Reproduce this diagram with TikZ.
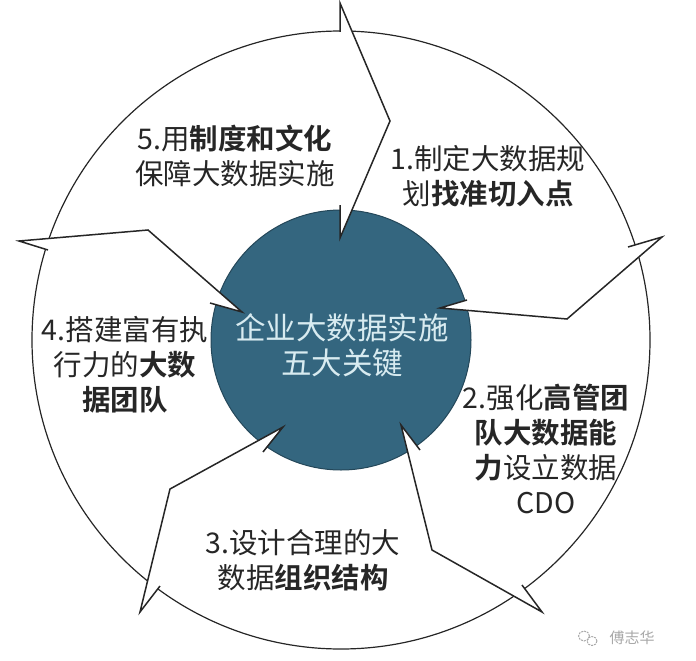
\documentclass[tikz,border=0pt]{standalone}
\usepackage{fontspec}
\setmainfont{Noto Sans CJK SC}[BoldFont={Noto Sans CJK SC Bold}]
\definecolor{discblue}{HTML}{34667F}
\definecolor{disctext}{HTML}{D8EBF0}
\definecolor{ink}{HTML}{262626}
\definecolor{mark}{HTML}{A8A8A8}
\tikzset{
  px/.style={x=1pt,y=-1pt},
  ringline/.style={draw=ink,line width=1.2pt},
  arrowfill/.style={fill=white,draw=none},
  arrowline/.style={draw=ink,line width=1.5pt,line join=miter,miter limit=8},
  keytext/.style={align=center,text=ink,font=\fontsize{28.5}{35}\selectfont,inner sep=0pt},
  disclabel/.style={align=center,text=disctext,font=\fontsize{30.5}{35}\selectfont,inner sep=0pt},
  wmtext/.style={text=mark,font=\fontsize{15}{15}\selectfont,inner sep=0pt},
  wmicon/.style={draw=mark,line width=1pt,dash pattern=on 2pt off 1pt},
}
\newcommand{\keyarrow}[5]{%
  \fill[arrowfill] #1 -- #2 -- #3 -- #4 -- #5 -- cycle;
  \draw[arrowline] #1 -- #2 -- #3 -- #4 -- #5;
}
\begin{document}
\begin{tikzpicture}[px]
  \useasboundingbox (0,0) rectangle (696,661);
  \coordinate (c) at (341,340);
  \draw[ringline] (c) circle[radius=309pt];
  \fill[discblue] (c) circle[radius=130pt];
  \draw[discblue!70!black,line width=1pt] (c) circle[radius=130pt];
  \keyarrow{(340,32)}{(340,3)}{(390,121)}{(340,238)}{(340,205)}
  \keyarrow{(628,247)}{(662,237)}{(567,319)}{(440,308)}{(467,300)}
  \keyarrow{(522,585)}{(542,612)}{(432,550)}{(401,425)}{(420,450)}
  \keyarrow{(160,586)}{(140,612)}{(170,489)}{(283,427)}{(263,452)}
  \keyarrow{(48,250)}{(19,241)}{(148,230)}{(242,312)}{(210,303)}
  \node[disclabel] (centre) at (342,345) {企业大数据实施\\五大关键};
  \node[keytext] (k5) at (235,156) {5.用\textbf{制度和文化}\\保障大数据实施};
  \node[keytext] (k1) at (488,176) {1.制定大数据规\\划\textbf{找准切入点}};
  \node[keytext] (k2) at (546,449) {2.强化\textbf{高管团}\\\textbf{队大数据能}\\\textbf{力}设立数据\\CDO};
  \node[keytext] (k3) at (303,560) {3.设计合理的大\\数据\textbf{组织结构}};
  \node[keytext] (k4) at (125,365) {4.搭建富有执\\行力的\textbf{大数}\\\textbf{据团队}};
  \node[wmtext] (wm) at (632,638) {傅志华};
  \draw[wmicon] (584,636) ellipse[x radius=5.5pt,y radius=5pt];
  \draw[wmicon] (592,641) ellipse[x radius=5pt,y radius=4.5pt];
\end{tikzpicture}
\end{document}
